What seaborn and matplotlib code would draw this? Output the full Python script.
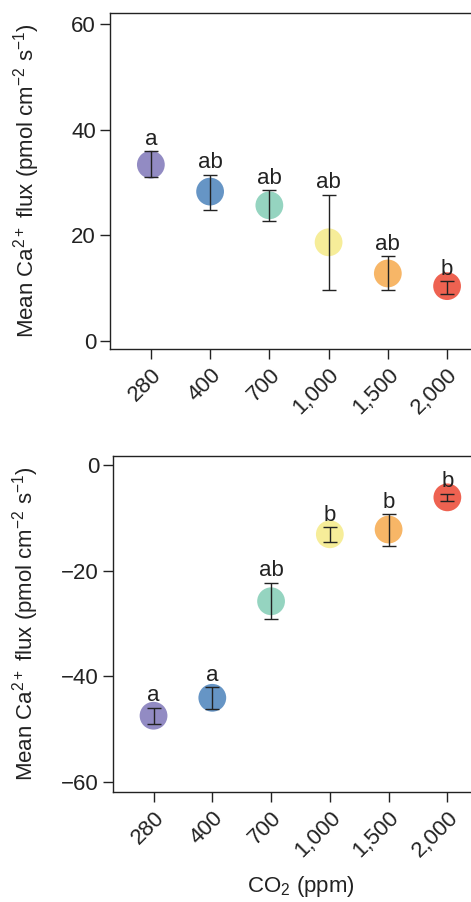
import numpy as np
import pandas as pd
import matplotlib
matplotlib.use('Agg')
import matplotlib.pyplot as plt
import seaborn as sns

# CO2 levels (ppm) and tick labels
co2 = ['280', '400', '700', '1000', '1500', '2000']
co2Labels = ['280', '400', '700', '1,000', '1,500', '2,000']
colors = ['#8c85c0', '#5e8fc2', '#8fd2bd', '#f6ec94', '#f7b25f', '#ee5a48']

# top panel: mean flux with error bar limits
topMean = [33.4, 28.3, 25.7, 18.7, 12.8, 10.4]
topHigh = [36.0, 31.5, 28.6, 27.7, 16.1, 11.3]
topLow = [31.0, 24.9, 22.7, 9.6, 9.6, 9.0]
topLetters = ['a', 'ab', 'ab', 'ab', 'ab', 'b']

# bottom panel
botMean = [-47.5, -44.1, -25.8, -13.1, -12.2, -6.1]
botHigh = [-46.0, -42.1, -22.3, -11.7, -9.3, -5.4]
botLow = [-49.1, -46.2, -29.2, -14.5, -15.3, -6.8]
botLetters = ['a', 'a', 'ab', 'b', 'b', 'b']

sns.set_style('ticks')
plt.rcParams['font.family'] = ['Liberation Sans', 'DejaVu Sans']
plt.rcParams['mathtext.fontset'] = 'custom'
plt.rcParams['mathtext.rm'] = 'Liberation Sans'
plt.rcParams['mathtext.it'] = 'Liberation Sans'

fontSize = 16
yLabel = r'Mean Ca$^{2+}$ flux (pmol cm$^{-2}$ s$^{-1}$)'


def draw_panel(ax, mean, low, high, letters, ylim, yticks, labelX):
    df = pd.DataFrame({'co2': co2, 'flux': mean})
    sns.scatterplot(data=df, x='co2', y='flux', hue='co2', palette=colors, s=400,
                    edgecolor='none', alpha=0.95, legend=False, ax=ax, zorder=2)
    xPos = np.arange(len(co2))
    ax.errorbar(xPos, mean, yerr=[np.array(mean) - np.array(low), np.array(high) - np.array(mean)],
                fmt='none', ecolor='#222222', elinewidth=1.0, capsize=5, capthick=1.0, zorder=3)
    for x, top, lab in zip(xPos, high, letters):
        ax.annotate(lab, (x, top), xytext=(0, 1.0), textcoords='offset points',
                    ha='center', va='bottom', fontsize=fontSize, color='#222222')
    ax.set_xlim(-0.69, 5.69)
    ax.set_ylim(*ylim)
    ax.set_yticks(yticks)
    ax.set_xticks(xPos)
    ax.set_xticklabels(co2Labels, rotation=45, ha='right', rotation_mode='anchor')
    ax.tick_params(labelsize=fontSize, length=7, width=1, color='#222222', labelcolor='#222222', pad=3)
    ax.tick_params(axis='x', pad=4)
    ax.set_ylabel(yLabel, fontsize=fontSize, color='#222222')
    ax.yaxis.set_label_coords(labelX, 0.5)
    for sp in ax.spines.values():
        sp.set_linewidth(1.0)
        sp.set_color('#222222')


fig = plt.figure(figsize=(4.71, 9.02), dpi=100)
axTop = fig.add_axes([0.2335, 0.6131, 0.8025, 0.373])
axBot = fig.add_axes([0.2399, 0.1223, 0.796, 0.3725])

draw_panel(axTop, topMean, topLow, topHigh, topLetters, (-1.5, 62.2), [0, 20, 40, 60], -0.18)
axTop.set_xlabel('')

draw_panel(axBot, botMean, botLow, botHigh, botLetters, (-61.9, 1.8), [-60, -40, -20, 0], -0.192)
axBot.set_yticklabels(['\u221260', '\u221240', '\u221220', '0'])
axBot.set_xlabel(r'CO$_2$ (ppm)', fontsize=fontSize, color='#222222', labelpad=9)

fig.savefig('out.png', dpi=100)
